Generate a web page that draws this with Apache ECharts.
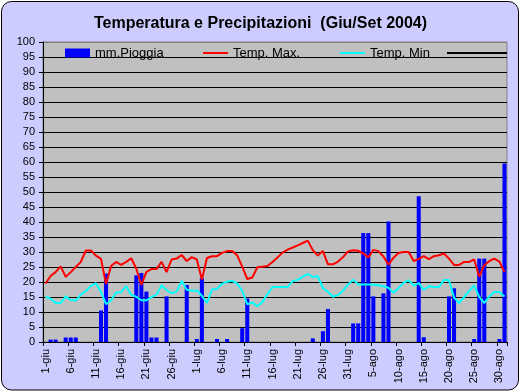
<!DOCTYPE html>
<html>
<head>
<meta charset="utf-8">
<script src="https://cdn.jsdelivr.net/npm/echarts@6/dist/echarts.min.js"></script>
<style>
html,body{margin:0;padding:0;background:#ffffff;}
#chart{width:521px;height:392px;}
</style>
</head>
<body>
<div id="chart"></div>
<script>
// Months shown on the category axis (name, number of days)
var months = [['giu', 30], ['lug', 31], ['ago', 31]];
var categories = [];
months.forEach(function (m) { for (var d = 1; d <= m[1]; d++) categories.push(d + '-' + m[0]); });

// Daily rainfall (mm), 1-giu .. 31-ago
var rain = [
  0, 0.8, 0.8, 0, 1.5, 1.5, 1.5, 0, 0, 0,
  0, 10.5, 22.8, 0, 0, 0, 0, 0, 22.2, 23,
  16.8, 1.5, 1.5, 0, 15.2, 0, 0, 0, 19, 0,
  1, 21.3, 0, 0, 1, 0, 1, 0, 0, 4.6,
  14.5, 0, 0, 0, 0, 0, 0, 0, 0, 0,
  0, 0, 0, 1.2, 0, 3.6, 11, 0, 0, 0,
  0, 6.2, 6.2, 36.3, 36.3, 15.2, 0, 16.2, 40.2, 0,
  0, 0, 0, 0, 48.6, 1.6, 0, 0, 0, 0,
  15.2, 17.9, 0, 0, 0, 1, 27.8, 27.8, 0, 0,
  1, 59.5
];
// Daily maximum temperature
var tempMax = [
  19.5, 22, 23.3, 25.2, 21.7, 23.3, 25, 26.7, 30.5, 30.5,
  28.8, 27.7, 19.3, 25.3, 26.7, 25.7, 26.7, 27.9, 24.4, 19,
  23.4, 24.3, 24.3, 26.7, 23.3, 27.5, 27.8, 29, 27, 28.3,
  27.5, 20.8, 28, 28.6, 28.6, 29.7, 30.3, 30.3, 28.9, 25.1,
  21, 21.5, 24.9, 25.1, 25.3, 26.7, 28.2, 29.8, 30.8, 31.5,
  32.2, 33, 33.8, 30.6, 28.8, 30.3, 25.9, 25.9, 26.8, 28.3,
  30.2, 30.6, 30.4, 29.5, 28.2, 30.7, 30.3, 28.5, 25.8, 28.1,
  29.7, 30, 30, 27, 27.7, 28.6, 27.6, 28.6, 28.9, 29.5,
  27.8, 25.7, 25.7, 26.7, 26.7, 27.5, 21.8, 25.6, 27, 27.8,
  26.8, 23.3
];
// Daily minimum temperature
var tempMin = [
  15, 14.5, 13, 13, 15.2, 14, 13.8, 15.8, 17, 18.7,
  19.6, 16.7, 12.6, 13.9, 16.5, 16.6, 18.6, 15.7, 15.1, 13.9,
  13.9, 15, 15.7, 18.9, 17.3, 16.3, 16.8, 20.4, 17.4, 17.1,
  17.2, 15.4, 13, 17.5, 17.7, 19.4, 20.1, 20.4, 19.5, 17,
  12.6, 13.2, 11.9, 13.3, 16, 18.3, 18.3, 18.3, 18.3, 20.3,
  20.7, 21.8, 22.6, 21.7, 21.9, 18, 16.7, 15.1, 15.7, 17.1,
  19.2, 20.8, 19.2, 19.2, 19.2, 19.1, 18.9, 18.6, 18.1, 16.4,
  18, 19.7, 20.6, 18.8, 19.6, 17.4, 18.6, 18.3, 18.3, 20.7,
  20.7, 14.8, 13, 15, 17, 18.9, 15, 13, 15.2, 16.7,
  16.7, 15.2
];
var seriesNames = ['mm.Pioggia', 'Temp. Max.', 'Temp. Min', ' '];
var yTicks = { min: 0, max: 100, step: 5 };

var FONT = 'Liberation Sans, Arial, sans-serif';
var splitColors = [];
for (var i = 0; i < (yTicks.max - yTicks.min) / yTicks.step; i++) splitColors.push('#000000');
splitColors.push('#808080');

var chart = echarts.init(document.getElementById('chart'), null, { renderer: 'canvas' });
var legendBase = {
  orient: 'horizontal', top: 46, itemHeight: 9, itemWidth: 25, itemGap: 0,
  textStyle: { fontSize: 13, lineHeight: 14, color: '#000', fontFamily: FONT },
  selectedMode: false, padding: 0
};
var lineLegend = { itemHeight: 2, icon: 'rect' };
chart.setOption({
  backgroundColor: 'transparent',
  animation: false,
  textStyle: { fontFamily: FONT },
  graphic: { elements: [{
    type: 'rect', z: -100, silent: true,
    shape: { x: 1.5, y: 1.5, width: 517, height: 388.5, r: 10 },
    style: { fill: '#CCCCFF', stroke: '#000000', lineWidth: 1 }
  }]},
  title: {
    text: 'Temperatura e Precipitazioni  (Giu/Set 2004)',
    left: 'center', top: 11,
    textStyle: { fontSize: 16, fontWeight: 'bold', color: '#000', fontFamily: FONT }
  },
  legend: [
    Object.assign({}, legendBase, { left: 65, icon: 'rect', data: [seriesNames[0]] }),
    Object.assign({}, legendBase, lineLegend, { left: 203, data: [seriesNames[1]] }),
    Object.assign({}, legendBase, lineLegend, { left: 340, data: [seriesNames[2]] }),
    Object.assign({}, legendBase, lineLegend, { left: 447, itemWidth: 60, data: [seriesNames[3]] })
  ],
  grid: {
    left: 43, right: 14, top: 42, bottom: 50,
    show: true, backgroundColor: '#C0C0C0', borderColor: '#808080', borderWidth: 1
  },
  xAxis: {
    type: 'category', data: categories, boundaryGap: true,
    axisLine: { show: true, lineStyle: { color: '#000', width: 1 } },
    axisTick: { show: true, interval: 4, length: 4, lineStyle: { color: '#000' } },
    axisLabel: { interval: 4, rotate: 90, fontSize: 11, color: '#000', margin: 7,
      padding: [5, 0, 0, 0], fontFamily: FONT },
    splitLine: { show: false }
  },
  yAxis: {
    type: 'value', min: yTicks.min, max: yTicks.max, interval: yTicks.step,
    axisLine: { show: true, lineStyle: { color: '#000', width: 1 } },
    axisTick: { show: true, length: 4, lineStyle: { color: '#000' } },
    axisLabel: { fontSize: 11, color: '#000', margin: 8, fontFamily: FONT },
    splitLine: { show: true, lineStyle: { color: splitColors, width: 1 } }
  },
  series: [
    { name: seriesNames[0], type: 'bar', data: rain, barCategoryGap: '20%',
      itemStyle: { color: '#0000FF' } },
    { name: seriesNames[1], type: 'line', data: tempMax, symbol: 'none',
      lineStyle: { color: '#FF0000', width: 2 }, itemStyle: { color: '#FF0000' } },
    { name: seriesNames[2], type: 'line', data: tempMin, symbol: 'none',
      lineStyle: { color: '#00FFFF', width: 2 }, itemStyle: { color: '#00FFFF' } },
    { name: seriesNames[3], type: 'line', data: [], symbol: 'none',
      lineStyle: { color: '#000000', width: 1.5 }, itemStyle: { color: '#000000' } }
  ]
});
</script>
</body>
</html>
